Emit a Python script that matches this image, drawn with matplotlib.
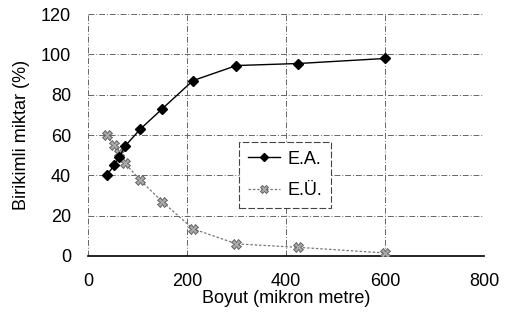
import matplotlib
matplotlib.use("Agg")
import matplotlib.pyplot as plt
from matplotlib.lines import Line2D

plt.rcParams['font.family'] = ['Liberation Sans', 'DejaVu Sans']

boyut = [38, 53, 63, 75, 106, 150, 212, 300, 425, 600]
ea = [40, 45, 49, 54.5, 63, 73, 87, 94.5, 95.5, 98]
eu = [60, 55, 51, 46, 37.5, 27, 13.5, 6, 4.3, 1.5]
xticks = [0, 200, 400, 600, 800]
yticks = [0, 20, 40, 60, 80, 100, 120]

fig = plt.figure(figsize=(5.08, 3.21), dpi=100)
ax = fig.add_axes([0.173, 0.2025, 0.780, 0.7535])

ax.plot(boyut, eu, color='#777777', lw=0.9, ls=(0, (2, 1.5)), marker='X',
        markersize=6.5, markerfacecolor='#aaaaaa', markeredgecolor='#555555',
        markeredgewidth=0.6, label='E.Ü.', zorder=3)
ax.plot(boyut, ea, color='black', lw=1.0, marker='D', markersize=5,
        markerfacecolor='black', markeredgecolor='black', label='E.A.', zorder=4)

ax.set_xlim(0, 800)
ax.set_ylim(0, 120)
ax.set_xticks(xticks)
ax.set_yticks(yticks)
ax.tick_params(axis='both', labelsize=13, length=0)
ax.tick_params(axis='x', pad=12)
ax.tick_params(axis='y', pad=12)
for s in ['top', 'right', 'left']:
    ax.spines[s].set_visible(False)
ax.spines['bottom'].set_linewidth(1.2)
ax.grid(True, color='#666666', lw=0.7, ls=(0, (6, 2, 1, 2)), zorder=0)
ax.set_axisbelow(True)

ax.set_xlabel('Boyut (mikron metre)', fontsize=13, labelpad=0)
ax.set_ylabel('Birikimli miktar (%)', fontsize=13, labelpad=8)

handles = [Line2D([], [], color='black', lw=1.0, marker='D', markersize=4.5),
           Line2D([], [], color='#777777', lw=0.9, ls=(0, (2, 1.5)), marker='X',
                  markersize=5.5, markerfacecolor='#aaaaaa', markeredgecolor='#555555',
                  markeredgewidth=0.6)]
leg = ax.legend(handles, ['E.A.', 'E.Ü.'], loc='center',
                bbox_to_anchor=(0.497, 0.335), fontsize=13, frameon=True,
                fancybox=False, edgecolor='#444444', framealpha=1,
                handlelength=1.8, labelspacing=0.8, borderpad=0.5,
                handletextpad=0.4)
leg.get_frame().set_linewidth(0.8)
leg.get_frame().set_linestyle((0, (6, 2)))

fig.savefig('out.png', dpi=100)
